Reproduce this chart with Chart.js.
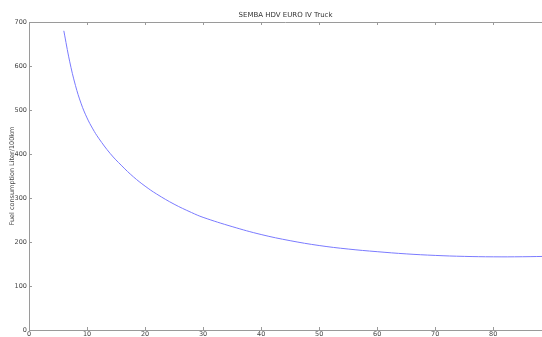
<!DOCTYPE html>
<html>
<head>
<meta charset="utf-8">
<script src="https://cdn.jsdelivr.net/npm/chart.js@4/dist/chart.umd.min.js"></script>
<style>
  html, body { margin: 0; padding: 0; background: #fff; }
  #wrap { width: 542px; height: 337px; }
</style>
</head>
<body>
<div id="wrap"><canvas id="fuelChart"></canvas></div>
<script>
    // speed (km/h) vs fuel consumption
    const speeds = [6, 7, 8, 9, 10, 11, 12, 14, 16, 18, 20, 22, 25, 28, 30, 35, 40, 45, 50, 55, 60, 65, 70, 75, 80, 85, 90];
    const consumption = [680, 611, 556, 514, 482, 457, 436, 401, 373, 348, 327, 309, 286, 267, 256, 235, 217, 203, 192, 184, 178, 173, 169.5, 167.3, 166.3, 166.5, 167.5];
    const xTicks = [0, 10, 20, 30, 40, 50, 60, 70, 80];
    const yTicks = [0, 100, 200, 300, 400, 500, 600, 700];

    const axisColor = '#9a9a9a'
    const labelColor = '#444'
    const smallFont = { family: 'DejaVu Sans', size: 6.5 }

    // top border line plus matplotlib style inward ticks
    const frameTicks = {
        id: 'frameTicks',
        afterDraw(chart) {
            const ctx = chart.ctx
            const a = chart.chartArea
            const xs = chart.scales.x
            const ys = chart.scales.y
            ctx.save()
            ctx.strokeStyle = axisColor
            ctx.lineWidth = 1
            ctx.beginPath()
            ctx.moveTo(a.left, a.top + 0.5)
            ctx.lineTo(a.right, a.top + 0.5)
            xTicks.forEach(v => {
                const px = Math.round(xs.getPixelForValue(v)) + 0.5
                ctx.moveTo(px, a.bottom)
                ctx.lineTo(px, a.bottom - 3)
                ctx.moveTo(px, a.top)
                ctx.lineTo(px, a.top + 3)
            })
            yTicks.forEach(v => {
                const py = Math.round(ys.getPixelForValue(v)) + 0.5
                ctx.moveTo(a.left, py)
                ctx.lineTo(a.left + 3, py)
            })
            ctx.stroke()
            ctx.restore()
        }
    }

    const fuelChart = new Chart(document.getElementById('fuelChart'), {
        type: 'line',
        data: {
            datasets: [{
                data: speeds.map((s, i) => ({ x: s, y: consumption[i] })),
                borderColor: '#7a7aff',
                borderWidth: 1,
                pointRadius: 0,
                tension: 0.4,
                fill: false
            }]
        },
        options: {
            responsive: true,
            maintainAspectRatio: false,
            animation: false,
            layout: { padding: { left: 0, right: 0, top: 0, bottom: 0 } },
            plugins: {
                legend: { display: false },
                tooltip: { enabled: false },
                title: {
                    display: true,
                    text: 'SEMBA HDV EURO IV Truck',
                    color: '#333',
                    fullSize: false,
                    font: { family: 'DejaVu Sans', size: 7, weight: 'normal' },
                    padding: { top: 11, bottom: 2.6 }
                }
            },
            scales: {
                x: {
                    type: 'linear',
                    min: 0,
                    max: 88.4,
                    afterBuildTicks: scale => {
                        scale.ticks = xTicks.map(v => ({ value: v }))
                    },
                    afterFit: scale => { scale.height = 7 },
                    ticks: { color: labelColor, font: smallFont, padding: 0, maxRotation: 0, autoSkip: false },
                    grid: { drawOnChartArea: false, drawTicks: false },
                    border: { color: axisColor, width: 1 }
                },
                y: {
                    min: 0,
                    max: 700,
                    afterBuildTicks: scale => {
                        scale.ticks = yTicks.map(v => ({ value: v }))
                    },
                    afterFit: scale => { scale.width = 29 },
                    ticks: { color: labelColor, font: smallFont, padding: 2 },
                    grid: { drawOnChartArea: false, drawTicks: false },
                    border: { color: axisColor, width: 1 },
                    title: {
                        display: true,
                        text: 'Fuel consumption Liter/100km',
                        color: labelColor,
                        font: smallFont,
                        padding: { top: 8, bottom: 0 }
                    }
                }
            }
        },
        plugins: [frameTicks]
    });
</script>
</body>
</html>
